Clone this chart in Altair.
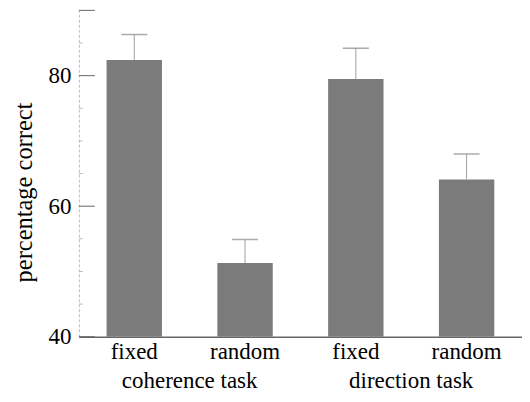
import altair as alt
import pandas as pd

groups = ["coherence task", "coherence task", "direction task", "direction task"]
conditions = ["fixed", "random", "fixed", "random"]
means = [82.4, 51.3, 79.5, 64.1]
err_tops = [86.3, 54.9, 84.2, 68.0]
major_ticks = [40, 60, 80, 90]
minor_ticks = [45, 50, 55, 65, 70, 75, 85]
y_labels = [40, 60, 80]

keys = [g + "|" + c for g, c in zip(groups, conditions)]
df = pd.DataFrame({"key": keys, "group": groups, "cond": conditions,
                   "mean": means, "top": err_tops})
grp = pd.DataFrame({"group": ["coherence task", "direction task"],
                    "key": [keys[0], keys[2]]})
maj = pd.DataFrame({"v": major_ticks})
mino = pd.DataFrame({"v": minor_ticks})

FONT = "Liberation Serif"

xscale = alt.Scale(domain=keys, paddingInner=0.5, paddingOuter=0.25)
yscale = alt.Scale(domain=[40, 90], nice=False, zero=False)

x_enc = alt.X("key:N", scale=xscale, sort=keys,
              axis=alt.Axis(title=None, ticks=False, labelAngle=0,
                            labelExpr="split(datum.label, '|')[1]",
                            labelFont=FONT, labelFontSize=23, labelColor="black",
                            labelPadding=4, domainColor="#666666", domainWidth=1.5,
                            zindex=1))
y_enc = alt.Y("mean:Q", scale=yscale,
              axis=alt.Axis(title="percentage correct", values=y_labels, ticks=False,
                            grid=False, labelFont=FONT, labelFontSize=23,
                            labelColor="black", labelPadding=8,
                            domainColor="#bdbdbd", domainDash=[3, 2],
                            titleFont=FONT, titleFontSize=24.5, titleFontWeight="normal",
                            titleColor="black", titleX=-54, titleY=182,
                            titleAngle=270, titleAlign="center",
                            titleBaseline="middle"))

bars = alt.Chart(df).mark_bar(color="#7b7b7b", clip=True).encode(
    x=x_enc, y=y_enc, y2=alt.datum(40))

err = alt.Chart(df).mark_rule(color="#a0a0a0", strokeWidth=1).encode(
    x=alt.X("key:N", scale=xscale, sort=keys),
    y=alt.Y("mean:Q", scale=yscale),
    y2="top:Q")

caps = alt.Chart(df).mark_tick(color="#888888", thickness=1.5, size=26).encode(
    x=alt.X("key:N", scale=xscale, sort=keys),
    y=alt.Y("top:Q", scale=yscale))

major = alt.Chart(maj).mark_rule(color="#666666", strokeWidth=1).encode(
    y=alt.Y("v:Q", scale=yscale), x=alt.value(0), x2=alt.value(16))

minor = alt.Chart(mino).mark_rule(color="#bbbbbb", strokeWidth=1).encode(
    y=alt.Y("v:Q", scale=yscale), x=alt.value(0), x2=alt.value(4))

glabels = alt.Chart(grp).mark_text(font=FONT, fontSize=23, color="black",
                                   baseline="alphabetic", dx=55.5).encode(
    x=alt.X("key:N", scale=xscale, sort=keys),
    y=alt.value(378),
    text="group:N")

chart = alt.layer(bars, err, caps, major, minor, glabels).properties(
    width=444, height=327,
    autosize=alt.AutoSizeParams(type="none"),
    padding={"left": 71, "top": 2, "right": 0, "bottom": 57},
).configure_view(stroke=None)

chart.save("out.html", embed_options={"renderer": "svg", "actions": False})
